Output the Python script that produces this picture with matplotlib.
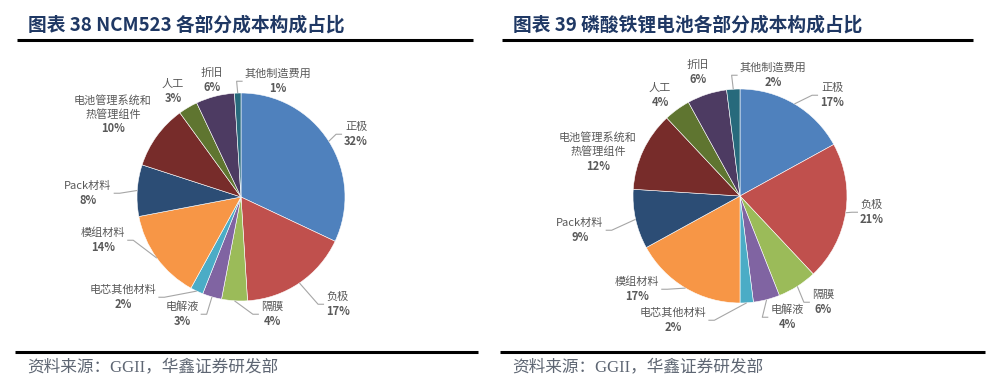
import matplotlib
matplotlib.use('Agg')
import matplotlib.pyplot as plt
import numpy as np

# ---------------- data ----------------
categories = ['正极', '负极', '隔膜', '电解液', '电芯其他材料', '模组材料',
              'Pack材料', '电池管理系统和\n热管理组件', '人工', '折旧', '其他制造费用']
ncm523_values = [32, 17, 4, 3, 2, 14, 8, 10, 3, 6, 1]
lfp_values = [17, 21, 6, 4, 2, 17, 9, 12, 4, 6, 2]
titles = ['图表 38 NCM523 各部分成本构成占比', '图表 39 磷酸铁锂电池各部分成本构成占比']
source_text = '资料来源：GGII，华鑫证券研发部'

colors = ['#4F81BD', '#C0504D', '#9BBB59', '#8064A2', '#4BACC6', '#F79646',
          '#2C4D75', '#772C2A', '#5F7530', '#4D3B62', '#276A7C']

CJK = ['Noto Sans CJK SC', 'DejaVu Sans']
SERIF = ['Liberation Serif', 'Noto Sans CJK SC', 'DejaVu Sans']
plt.rcParams['font.family'] = CJK

W, H = 1000, 386
fig = plt.figure(figsize=(W / 100, H / 100), dpi=100)
ax = fig.add_axes([0, 0, 1, 1])

def Y(py):
    return H - py

panels = [
    dict(values=ncm523_values, center=(241, 197), radius=104,
         labels=[(356, 127), (338, 297), (272, 307), (182, 307), (123, 290), (103, 233),
                 (88, 186), (113, 100), (173, 84), (212, 73), (278, 74)],
         leader=[True, True, True, True, True, True, True, False, False, False, True],
         title_x=28, x0=15, x1=478, tx1=473, title=titles[0]),
    dict(values=lfp_values, center=(740, 196), radius=107,
         labels=[(832, 88), (872, 205), (823, 295), (787, 310), (673, 313), (637, 282),
                 (580, 223), (598, 137), (660, 88), (698, 65), (773, 68)],
         leader=[True, True, True, True, True, True, True, False, False, False, True],
         title_x=513, x0=500, x1=985, tx1=973, title=titles[1]),
]

label_color = '#595959'
line_h = 14.5
pending = []

for p in panels:
    cx, cy = p['center']
    r = p['radius']
    vals = p['values']
    ax.pie(vals, colors=colors, startangle=90, counterclock=False,
           center=(cx, Y(cy)), radius=r,
           wedgeprops=dict(edgecolor='white', linewidth=0.4))
    cum = np.cumsum([0] + list(vals))
    total = float(sum(vals))
    for i, (name, v) in enumerate(zip(categories, vals)):
        lx, ly = p['labels'][i]
        lines = name.split('\n')
        texts = []
        for k, ln in enumerate(lines):
            t = ax.text(lx, Y(ly + k * line_h), ln, ha='center', va='center',
                        fontsize=8, color=label_color, family=CJK)
            texts.append(t)
        tp = ax.text(lx, Y(ly + len(lines) * line_h), f'{v}%', ha='center', va='center',
                     fontsize=8, color=label_color, fontweight='bold', family=CJK)
        texts.append(tp)
        if p['leader'][i]:
            mid = (cum[i] + cum[i + 1]) / 2.0 / total
            ang = np.deg2rad(90 - 360 * mid)
            ex, ey = cx + r * np.cos(ang), Y(cy) + r * np.sin(ang)
            ay = Y(ly + 0.5 * line_h * len(lines))
            pending.append((texts, lx, ex, ey, ay))
    ax.text(p['title_x'], Y(25), p['title'], ha='left', va='center', fontsize=13.5,
            fontweight='bold', color='#1F3864', family=CJK)
    ax.plot([p['x0'] + 2, p['tx1']], [Y(40), Y(40)],
            color='black', lw=2.2, solid_capstyle='butt')
    ax.plot([p['x0'], p['x1']], [Y(352), Y(352)], color='black', lw=2.2,
            solid_capstyle='butt')
    ax.text(p['x0'] + 12, Y(367), source_text, ha='left', va='center', fontsize=12,
            color='#5E6673', family=SERIF)

ax.set_xlim(0, W)
ax.set_ylim(0, H)
ax.set_aspect('equal')
ax.axis('off')

fig.canvas.draw()
renderer = fig.canvas.get_renderer()
inv = ax.transData.inverted()
for texts, lx, ex, ey, ay in pending:
    bbs = [t.get_window_extent(renderer).transformed(inv) for t in texts]
    left = min(b.x0 for b in bbs)
    right = max(b.x1 for b in bbs)
    if lx >= ex:
        axp = left - 2
        mx = axp - 6
    else:
        axp = right + 2
        mx = axp + 6
    ax.plot([ex, mx, axp], [ey, ay, ay], color='#A6A6A6', lw=0.8,
            solid_capstyle='butt', zorder=1)

fig.savefig('out.png', dpi=100)
